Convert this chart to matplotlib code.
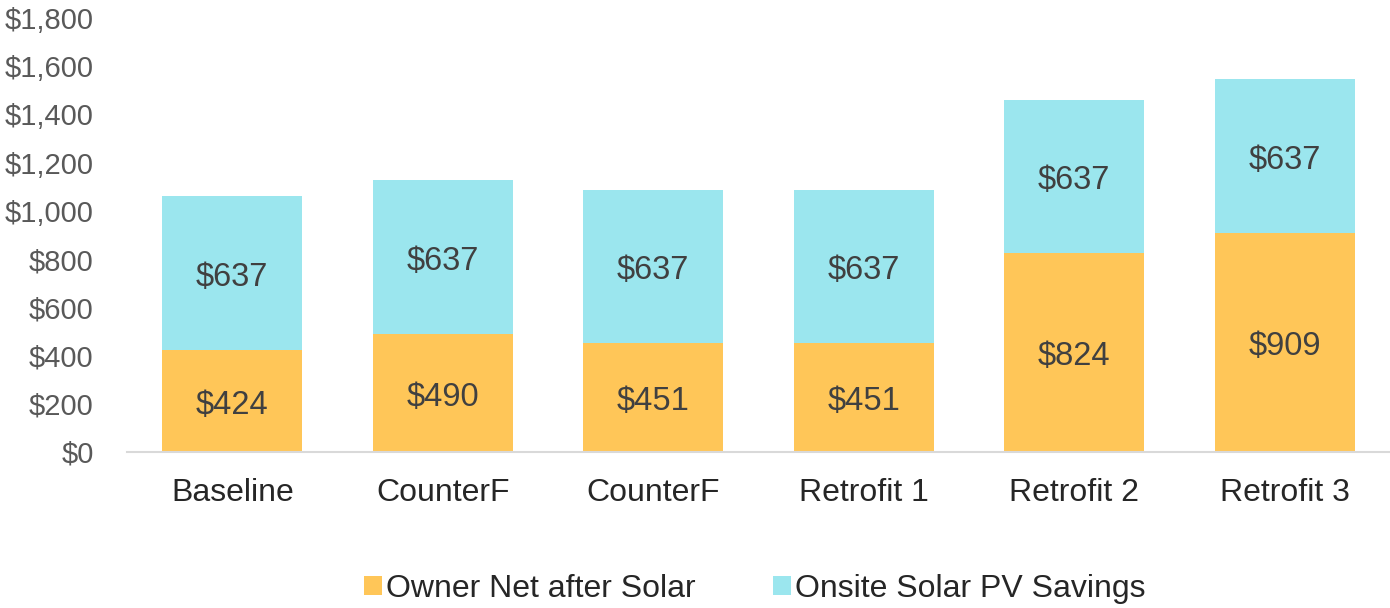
import matplotlib.pyplot as plt
from matplotlib.ticker import FuncFormatter

plt.rcParams['font.family'] = ['Liberation Sans', 'DejaVu Sans']

# Data
categories = ['Baseline', 'CounterF', 'CounterF', 'Retrofit 1', 'Retrofit 2', 'Retrofit 3']
owner_net = [424, 490, 451, 451, 824, 909]
solar_savings = [637, 637, 637, 637, 637, 637]

orange = '#FFC658'
cyan = '#9BE6EE'

fig = plt.figure(figsize=(13.9, 6.08), dpi=100)
ax = fig.add_axes([0.0914, 0.2566, 0.9086, 0.7138])

x = list(range(len(categories)))
b1 = ax.bar(x, owner_net, width=0.665, color=orange, label='Owner Net after Solar')
b2 = ax.bar(x, solar_savings, width=0.665, bottom=owner_net, color=cyan,
            label='Onsite Solar PV Savings')

# value labels centred in each segment
for i in x:
    ax.annotate('$%d' % owner_net[i], (i, owner_net[i] / 2), xytext=(0, -3),
                textcoords='offset points', ha='center', va='center',
                fontsize=23.5, color='#404040')
    ax.annotate('$%d' % solar_savings[i], (i, owner_net[i] + solar_savings[i] / 2),
                xytext=(0, -3), textcoords='offset points', ha='center', va='center',
                fontsize=23.5, color='#404040')

ax.set_xlim(-0.5, len(categories) - 0.5)
ax.set_ylim(0, 1800)
ax.set_yticks(range(0, 1801, 200))
ax.yaxis.set_major_formatter(FuncFormatter(lambda v, p: '${:,.0f}'.format(v)))
ax.set_xticks(x)
ax.set_xticklabels(categories)

for s in ['top', 'right', 'left']:
    ax.spines[s].set_visible(False)
ax.spines['bottom'].set_color('#D9D9D9')
ax.spines['bottom'].set_linewidth(1.5)

ax.tick_params(axis='y', length=0, labelsize=21, labelcolor='#595959', pad=24)
ax.tick_params(axis='x', length=0, labelsize=23, labelcolor='#262626', pad=19)

fig.legend(handles=[b1, b2], loc='center', bbox_to_anchor=(0.543, 0.031), ncol=2,
           frameon=False, fontsize=23, handlelength=0.55, handleheight=0.55,
           handletextpad=0.12, columnspacing=2.45, labelcolor='#262626')

fig.savefig('out.png', dpi=100)
